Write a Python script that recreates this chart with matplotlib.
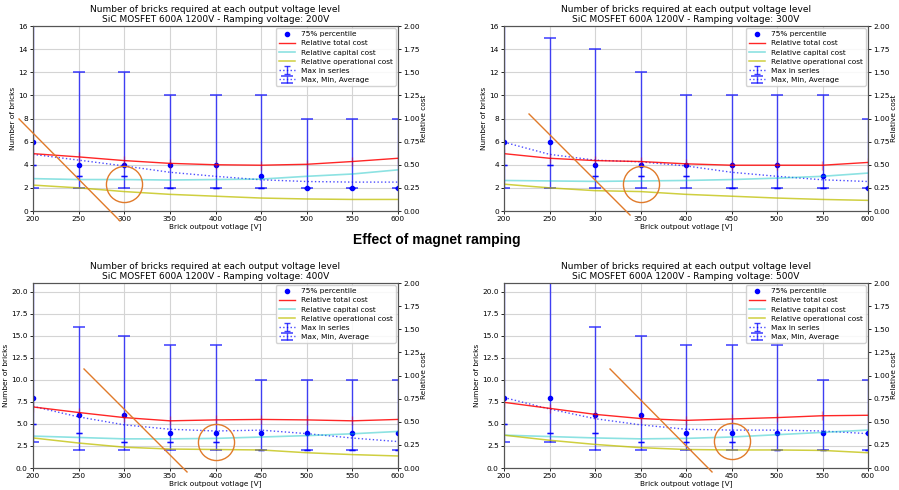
import numpy as np
import matplotlib
matplotlib.use("Agg")
import matplotlib.pyplot as plt

# Brick output voltages (x axis) and ramping voltages (one panel each)
voltages = [200, 250, 300, 350, 400, 450, 500, 550, 600]
ramp_voltages = [200, 300, 400, 500]

# Number of bricks, one row per panel
n_p75 = [[6, 4, 4, 4, 4, 3, 2, 2, 2],
         [6, 6, 4, 4, 4, 4, 4, 3, 2],
         [8, 6, 6, 4, 4, 4, 4, 4, 4],
         [8, 8, 6, 6, 4, 4, 4, 4, 4]]
n_max = [[16, 12, 12, 10, 10, 10, 8, 8, 8],
         [16, 15, 14, 12, 10, 10, 10, 10, 8],
         [21, 16, 15, 14, 14, 10, 10, 10, 10],
         [21, 21, 16, 15, 14, 14, 14, 10, 10]]
n_min = [[2, 2, 2, 2, 2, 2, 2, 2, 2],
         [2, 2, 2, 2, 2, 2, 2, 2, 2],
         [3, 2, 2, 2, 2, 2, 2, 2, 2],
         [3, 3, 2, 2, 2, 2, 2, 2, 2]]
n_series = [[4, 3, 3, 2, 2, 2, 2, 2, 2],
            [4, 4, 3, 3, 3, 2, 2, 2, 2],
            [5, 4, 3, 3, 3, 2, 2, 2, 2],
            [5, 4, 4, 3, 3, 3, 2, 2, 2]]
n_avg = [[4.9, 4.4, 3.9, 3.35, 3.0, 2.7, 2.55, 2.5, 2.5],
         [5.95, 4.9, 4.4, 4.25, 3.9, 3.35, 3.0, 2.7, 2.55],
         [7.0, 5.8, 4.9, 4.4, 4.2, 4.3, 3.9, 3.4, 3.0],
         [8.0, 6.7, 5.6, 4.9, 4.4, 4.3, 4.3, 4.2, 3.9]]

# Relative costs (right axis)
total_cost = [[0.62, 0.585, 0.545, 0.515, 0.50, 0.495, 0.505, 0.535, 0.57],
              [0.62, 0.57, 0.545, 0.535, 0.51, 0.495, 0.495, 0.495, 0.525],
              [0.66, 0.60, 0.545, 0.51, 0.52, 0.525, 0.52, 0.51, 0.525],
              [0.71, 0.645, 0.58, 0.535, 0.515, 0.53, 0.545, 0.565, 0.57]]
capital_cost = [[0.35, 0.34, 0.34, 0.335, 0.34, 0.345, 0.375, 0.40, 0.445],
                [0.33, 0.325, 0.32, 0.325, 0.33, 0.34, 0.355, 0.375, 0.41],
                [0.345, 0.33, 0.315, 0.315, 0.32, 0.335, 0.35, 0.37, 0.395],
                [0.355, 0.34, 0.325, 0.315, 0.32, 0.335, 0.36, 0.385, 0.41]]
oper_cost = [[0.28, 0.25, 0.21, 0.18, 0.16, 0.14, 0.13, 0.125, 0.125],
             [0.29, 0.25, 0.22, 0.21, 0.18, 0.16, 0.14, 0.125, 0.115],
             [0.325, 0.27, 0.225, 0.205, 0.20, 0.195, 0.165, 0.145, 0.13],
             [0.355, 0.30, 0.255, 0.22, 0.20, 0.195, 0.195, 0.19, 0.165]]
total_cost_err = 0.05

y_max = [16, 16, 21, 21]

# Hand drawn orange marks: strike line (two points) and circle centre
strike_lines = [[(184.7, 7.96), (295.3, -0.86)],
                [(227.5, 8.39), (338.5, -0.35)],
                [(255.9, 11.24), (368.8, -0.45)],
                [(316.5, 11.24), (428.6, -0.45)]]
circles = [(300, 2.3), (350, 2.3), (400, 3.0), (450, 3.1)]

W, H = 899, 490
fig = plt.figure(figsize=(W / 100, H / 100), dpi=100)

# panel boxes in pixels: left, top, width, height
boxes = [(33, 26, 365, 185), (504, 26, 364, 185),
         (33, 283, 365, 185), (504, 283, 364, 185)]

x = np.array(voltages)
orange = "#e07a2a"
fs = 5.3

for i, (l, t, w, h) in enumerate(boxes):
    ax = fig.add_axes([l / W, 1 - (t + h) / H, w / W, h / H])
    ax2 = ax.twinx()

    avg = np.array(n_avg[i])
    mx = np.array(n_max[i])
    mn = np.array(n_min[i])
    ser = np.array(n_series[i])

    ax.grid(True, color="#d4d4d4", lw=0.8)
    ax.set_axisbelow(True)

    eb_series = ax.errorbar(x, ser, yerr=np.zeros(len(x)), fmt=":", color="b",
                            ecolor="b", capsize=2, capthick=1, lw=1, alpha=0.75,
                            label="Max in series")
    eb_series.lines[0].set_ydata(np.full(len(x), np.nan))
    eb_all = ax.errorbar(x, avg, yerr=[avg - mn, mx - avg], fmt=":", color="b",
                         ecolor="b", elinewidth=1, capsize=4.5, capthick=1.2,
                         lw=1, alpha=0.7, label="Max, Min, Average")
    dots, = ax.plot(x, n_p75[i], "o", color="b", ms=3, label="75% percentile")

    ax.set_xlim(200, 600)
    ax.set_ylim(0, y_max[i])
    ax.set_xticks(voltages)
    ax.set_xlabel("Brick outpout votlage [V]", fontsize=fs, labelpad=0.5)
    ax.set_ylabel("Number of bricks", fontsize=fs, labelpad=1.5)
    ax.set_title("Number of bricks required at each output voltage level\n"
                 "SiC MOSFET 600A 1200V - Ramping voltage: %dV" % ramp_voltages[i],
                 fontsize=6.5, pad=3, linespacing=1.05)

    ax2.errorbar(x, total_cost[i], yerr=total_cost_err, fmt="none",
                 ecolor="r", elinewidth=1, alpha=0.35)
    l_tot, = ax2.plot(x, total_cost[i], color="r", lw=1, alpha=0.85,
                      label="Relative total cost")
    l_cap, = ax2.plot(x, capital_cost[i], color="c", lw=1.2, alpha=0.45,
                      label="Relative capital cost")
    l_op, = ax2.plot(x, oper_cost[i], color="y", lw=1.1, alpha=0.75,
                     label="Relative operational cost")
    ax2.set_ylim(0, 2)
    ax2.set_yticks(np.arange(0, 2.01, 0.25))
    ax2.set_ylabel("Relative cost", fontsize=fs, labelpad=1)

    if y_max[i] == 16:
        ax.set_yticks(range(0, 17, 2))
    else:
        ax.set_yticks(np.arange(0, 21, 2.5))

    for a in (ax, ax2):
        a.tick_params(labelsize=fs, length=2.5, width=0.6, pad=1.2)
        for s in a.spines.values():
            s.set_color("#555555")
            s.set_linewidth(0.8)

    ax2.legend([dots, l_tot, l_cap, l_op, eb_series, eb_all],
               ["75% percentile", "Relative total cost", "Relative capital cost",
                "Relative operational cost", "Max in series", "Max, Min, Average"],
               loc="upper right", fontsize=fs, borderaxespad=0.3,
               handlelength=2.2, labelspacing=0.4, framealpha=0.85)

    # orange hand drawn annotations
    (x0, y0), (x1, y1) = strike_lines[i]
    ax2.plot([x0, x1], [y0 / y_max[i] * 2, y1 / y_max[i] * 2], color=orange,
             lw=1, clip_on=False, zorder=10)
    cx, cy = circles[i]
    ax2.plot([cx], [cy / y_max[i] * 2], "o", ms=26, mfc="none", mec=orange,
             mew=1, clip_on=False, zorder=10)

fig.text(437 / W, 1 - 240 / H, "Effect of magnet ramping", ha="center",
         va="center", fontsize=10, fontweight="bold", family="Liberation Sans")

fig.savefig("out.png", dpi=100)
